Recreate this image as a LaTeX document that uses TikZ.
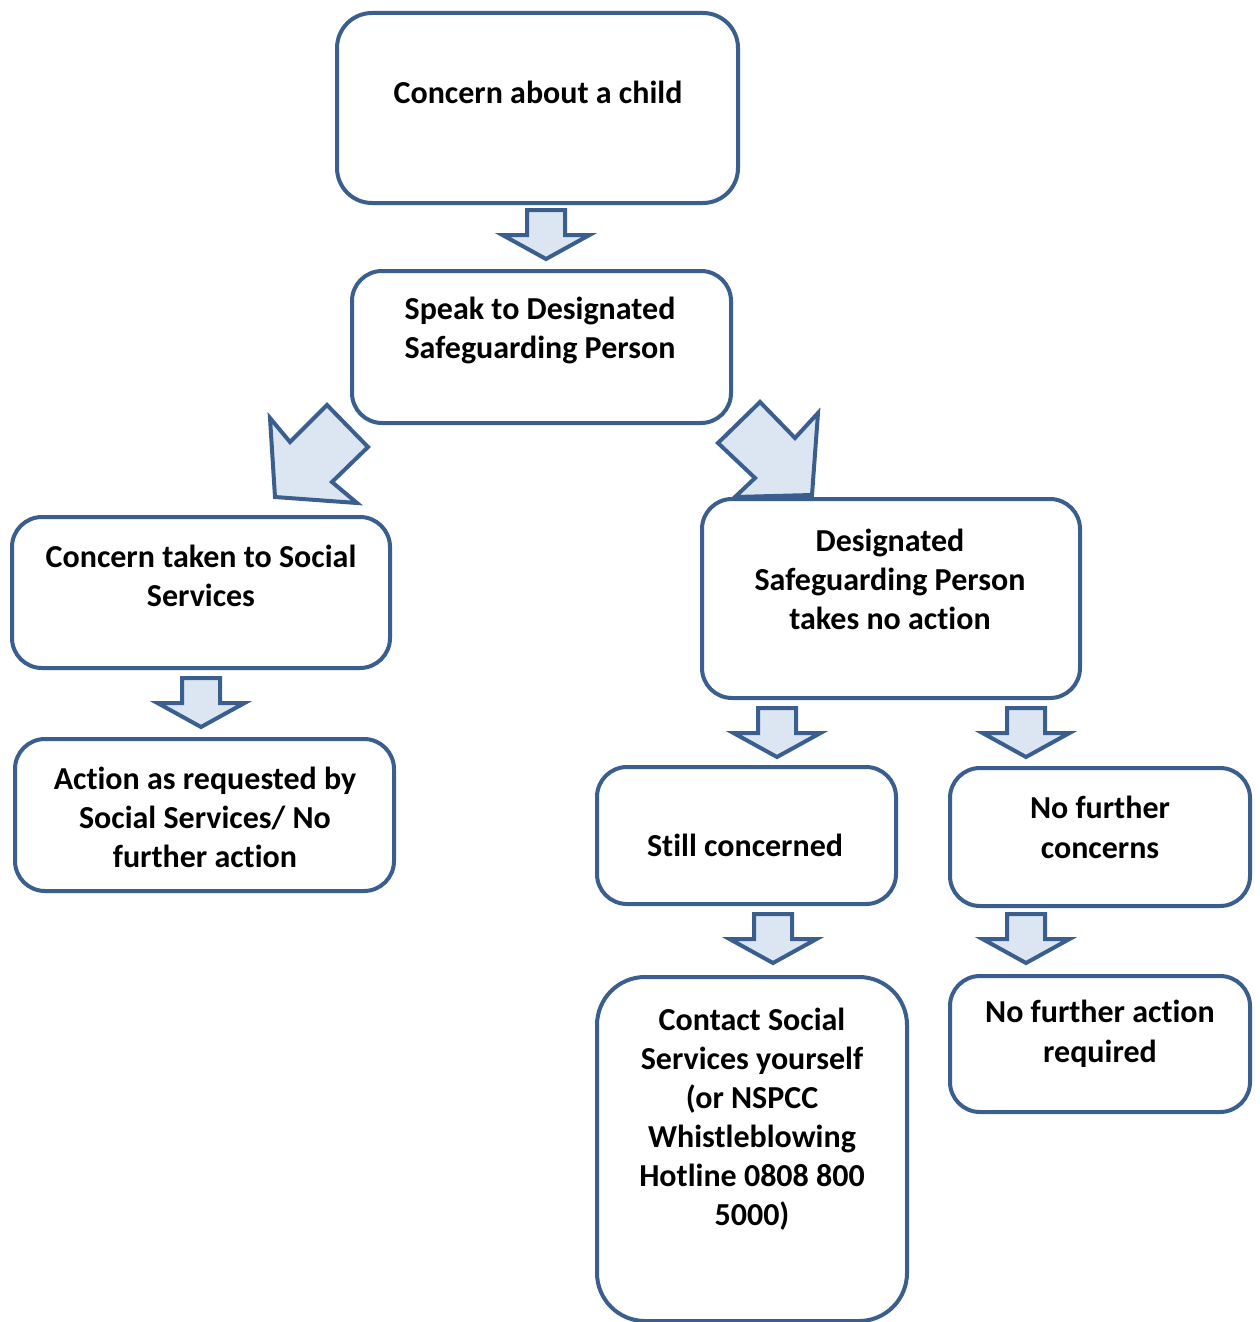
\documentclass[tikz,border=0pt]{standalone}
\usepackage{fontspec}
\setmainfont{Carlito}[Ligatures=NoCommon]
\definecolor{bord}{HTML}{3A5F8E}
\definecolor{afill}{HTML}{DCE6F2}
\tikzset{
  box/.style={draw=bord, line width=4pt, fill=white, rounded corners=30pt, inner sep=0pt},
  txt/.style={font=\bfseries\fontsize{32}{39}\selectfont, align=center, inner sep=0pt},
  barrow/.style={draw=bord, line width=4pt, fill=afill, line join=miter},
  pics/darr/.style={code={
    \draw[barrow] (-19,0)--(19,0)--(19,25)--(43.5,25)--(0,49)--(-43.5,25)--(-19,25)--cycle;}}
}
\begin{document}
\begin{tikzpicture}[x=1pt,y=-1pt]
\useasboundingbox (0,0) rectangle (1259,1322);
% block arrows
\pic at (546,210) {darr};
\pic at (201,678) {darr};
\pic at (777,708) {darr};
\pic at (1026,708) {darr};
\pic at (773,914) {darr};
\pic at (1026,914) {darr};
\draw[barrow] (270,418)--(290,442)--(327,405)--(368,447)--(332,482)--(357,503)--(275,497)--cycle;
\draw[barrow] (760,402)--(795,438)--(818,413)--(812,495)--(735,497)--(755,478)--(718,443)--cycle;
% boxes
\node[box, rounded corners=35pt, minimum width=401pt, minimum height=190pt] (b1) at (537.5,108) {};
\node[box, minimum width=379pt, minimum height=152pt] (b2) at (541.5,347) {};
\node[box, minimum width=378pt, minimum height=151pt] (b3) at (201,592.5) {};
\node[box, minimum width=379pt, minimum height=152pt] (b4) at (204.5,815) {};
\node[box, minimum width=378pt, minimum height=199pt] (b5) at (891,598.5) {};
\node[box, minimum width=299pt, minimum height=137pt] (b6) at (746.5,835.5) {};
\node[box, minimum width=300pt, minimum height=138pt] (b7) at (1100,837) {};
\node[box, rounded corners=48pt, minimum width=310pt, minimum height=344pt] (b8) at (752,1149) {};
\node[box, minimum width=300pt, minimum height=136pt] (b9) at (1100,1044) {};
% texts
\node[txt] (t1) at (538,92) {Concern about a child};
\node[txt] (t2) at (540,330.5) {Speak to Designated\\Safeguarding Person};
\node[txt] (t3) at (201,575.5) {Concern taken to Social\\Services};
\node[txt] (t4) at (205,817) {Action as requested by\\Social Services/ No\\further action};
\node[txt] (t5) at (890,579) {Designated\\Safeguarding Person\\takes no action};
\node[txt] (t6) at (745,845) {Still concerned};
\node[txt] (t7) at (1100,827) {No further\\[1pt]concerns};
\node[txt] (t8) at (752,1119.5) {Contact Social\\Services yourself\\(or NSPCC\\Whistleblowing\\Hotline 0808 800\\5000)};
\node[txt] (t9) at (1100,1034) {No further action\\[1pt]required};
\end{tikzpicture}
\end{document}
